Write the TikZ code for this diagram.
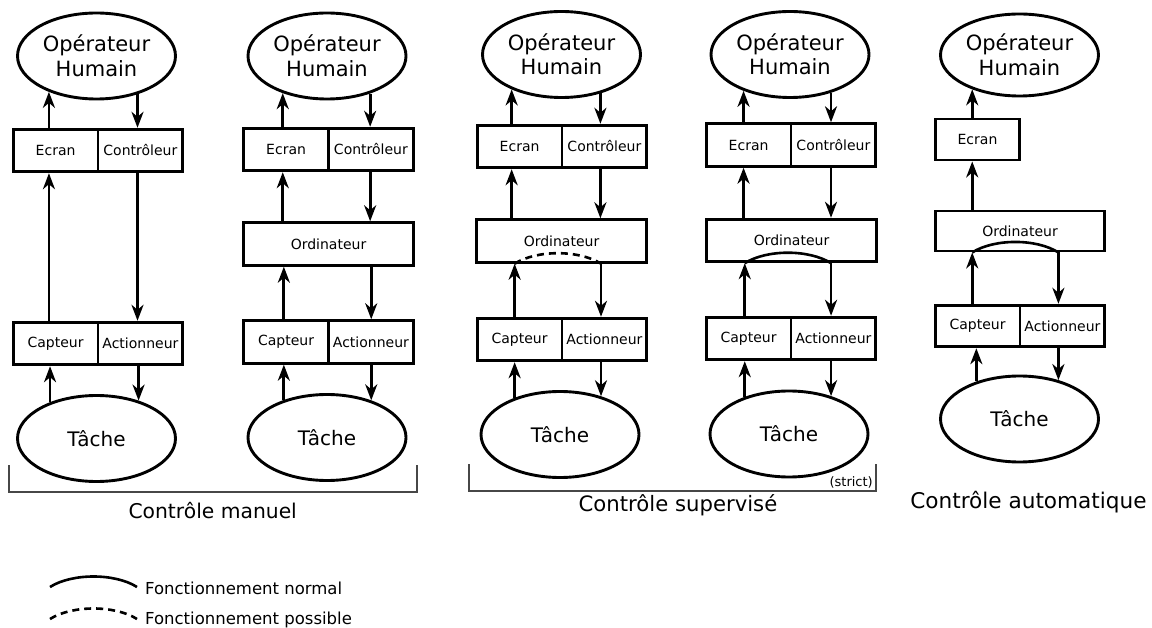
\documentclass[tikz,border=0pt]{standalone}
\usepackage{fontspec}
\setmainfont{DejaVu Sans}
\usetikzlibrary{shapes.geometric,arrows.meta}
\begin{document}
\begin{tikzpicture}[x=1pt,y=-1pt,
  ellbox/.style={ellipse,draw,line width=2.9pt,inner sep=0pt,minimum width=158pt,minimum height=86pt,align=center,font=\fontsize{21}{24.5}\selectfont},
  tachebox/.style={ellbox,font=\fontsize{20}{24}\selectfont},
  cellbox/.style={rectangle,draw,line width=2.9pt,inner sep=0pt,minimum width=84.75pt,minimum height=42.5pt,font=\fontsize{14}{16}\selectfont},
  widebox/.style={cellbox,minimum width=169.5pt},
  arr/.style={line width=2.7pt,-{Stealth[length=16pt,width=12pt,inset=5pt]}},
  loopn/.style={line width=2.6pt},
  loopp/.style={line width=2.6pt,dash pattern=on 7pt off 5pt},
  bracket/.style={line width=1.5pt,draw=black!72},
  caption/.style={anchor=base,inner sep=0pt},
  legtext/.style={anchor=base west,inner sep=0pt,font=\fontsize{16.5}{19}\selectfont}
]
\useasboundingbox (0,0) rectangle (1152,628);

% ---------- column 1 : manual ----------
\node[ellbox] (op1) at (96.5,56) {Opérateur\\Humain};
\node[cellbox] (ecr1) at (55.6,150.5) {Ecran};
\node[cellbox] (ctl1) at (140.4,150.5) {Contrôleur};
\node[cellbox] (cap1) at (55.6,343.5) {Capteur};
\node[cellbox] (act1) at (140.4,343.5) {Actionneur};
\node[tachebox] (ta1) at (96.5,438.5) {Tâche};
\draw[arr] (ecr1.north -| op1.217.6) -- (op1.217.6);
\draw[arr] (op1.317.8) -- (ctl1.north -| op1.317.8);
\draw[arr] (cap1.north -| op1.217.6) -- (ecr1.south -| op1.217.6);
\draw[arr] (ctl1.south -| op1.317.8) -- (act1.north -| op1.317.8);
\draw[arr] (ta1.142.4) -- (cap1.south -| ta1.142.4);
\draw[arr] (act1.south -| ta1.42.2) -- (ta1.42.2);

% ---------- column 2 : manual with computer ----------
\node[ellbox] (op2) at (327,56) {Opérateur\\Humain};
\node[cellbox] (ecr2) at (286.1,149.5) {Ecran};
\node[cellbox] (ctl2) at (370.9,149.5) {Contrôleur};
\node[widebox] (ord2) at (328.5,244) {Ordinateur};
\node[cellbox] (cap2) at (286.1,342) {Capteur};
\node[cellbox] (act2) at (370.9,342) {Actionneur};
\node[tachebox] (ta2) at (327,437.5) {Tâche};
\draw[arr] (ecr2.north -| op2.220.8) -- (op2.220.8);
\draw[arr] (op2.319.2) -- (ctl2.north -| op2.319.2);
\draw[arr] (ord2.north -| op2.220.8) -- (ecr2.south -| op2.220.8);
\draw[arr] (ctl2.south -| op2.319.2) -- (ord2.north -| op2.319.2);
\draw[arr] (cap2.north -| ta2.139.2) -- (ord2.south -| ta2.139.2);
\draw[arr] (ord2.south -| ta2.40.8) -- (act2.north -| ta2.40.8);
\draw[arr] (ta2.139.2) -- (cap2.south -| ta2.139.2);
\draw[arr] (act2.south -| ta2.40.8) -- (ta2.40.8);

% ---------- column 3 : supervised ----------
\node[ellbox] (op3) at (561.5,54.5) {Opérateur\\Humain};
\node[cellbox] (ecr3) at (519.6,146.5) {Ecran};
\node[cellbox] (ctl3) at (604.4,146.5) {Contrôleur};
\node[widebox] (ord3) at (561.5,241) {Ordinateur};
\node[cellbox] (cap3) at (519.6,339.5) {Capteur};
\node[cellbox] (act3) at (604.4,339.5) {Actionneur};
\node[tachebox] (ta3) at (560,434.5) {Tâche};
\draw[arr] (ecr3.north -| op3.215.8) -- (op3.215.8);
\draw[arr] (op3.315.9) -- (ctl3.north -| op3.315.9);
\draw[arr] (ord3.north -| op3.215.8) -- (ecr3.south -| op3.215.8);
\draw[arr] (ctl3.south -| op3.315.9) -- (ord3.north -| op3.315.9);
\draw[arr] (cap3.north -| ta3.141) -- (ord3.south -| ta3.141);
\draw[arr] (ord3.south -| ta3.43.6) -- (act3.north -| ta3.43.6);
\draw[arr] (ta3.141) -- (cap3.south -| ta3.141);
\draw[arr] (act3.south -| ta3.43.6) -- (ta3.43.6);
\draw[loopp] (ord3.south -| ta3.141) .. controls +(22,-14) and +(-22,-14) .. (ord3.south -| ta3.43.6);

% ---------- column 4 : supervised (strict) ----------
\node[ellbox] (op4) at (790,54.5) {Opérateur\\Humain};
\node[cellbox] (ecr4) at (748.6,145) {Ecran};
\node[cellbox] (ctl4) at (833.4,145) {Contrôleur};
\node[widebox] (ord4) at (791.5,240.5) {Ordinateur};
\node[cellbox] (cap4) at (748.6,338.5) {Capteur};
\node[cellbox] (act4) at (833.4,338.5) {Actionneur};
\node[tachebox] (ta4) at (789,434) {Tâche};
\draw[arr] (ecr4.north -| op4.218) -- (op4.218);
\draw[arr] (op4.317.3) -- (ctl4.north -| op4.317.3);
\draw[arr] (ord4.north -| op4.218) -- (ecr4.south -| op4.218);
\draw[arr] (ctl4.south -| op4.317.3) -- (ord4.north -| op4.317.3);
\draw[arr] (cap4.north -| ta4.140.2) -- (ord4.south -| ta4.140.2);
\draw[arr] (ord4.south -| ta4.42.7) -- (act4.north -| ta4.42.7);
\draw[arr] (ta4.140.2) -- (cap4.south -| ta4.140.2);
\draw[arr] (act4.south -| ta4.42.7) -- (ta4.42.7);
\draw[loopn] (ord4.south -| ta4.140.2) .. controls +(22,-14) and +(-22,-14) .. (ord4.south -| ta4.42.7);

% ---------- column 5 : automatic ----------
\node[ellbox,minimum height=82pt] (op5) at (1019.5,55) {Opérateur\\Humain};
\node[cellbox,minimum height=41pt] (ecr5) at (977.5,139.5) {Ecran};
\node[widebox,minimum height=40pt] (ord5) at (1020,231) {Ordinateur};
\node[cellbox,minimum height=41.5pt] (cap5) at (977.6,326) {Capteur};
\node[cellbox,minimum height=41.5pt] (act5) at (1062.4,326) {Actionneur};
\node[tachebox] (ta5) at (1019.5,419) {Tâche};
\draw[arr] (ecr5.north -| op5.216.3) -- (op5.216.3);
\draw[arr] (ord5.north -| op5.216.3) -- (ecr5.south -| op5.216.3);
\draw[arr] (cap5.north -| op5.216.3) -- (ord5.south -| op5.216.3);
\draw[arr] (ord5.south -| ta5.45.1) -- (act5.north -| ta5.45.1);
\draw[arr] (ta5.139.7) -- (cap5.south -| ta5.139.7);
\draw[arr] (act5.south -| ta5.45.1) -- (ta5.45.1);
\draw[loopn] (ord5.south -| op5.216.3) .. controls +(22,-14) and +(-22,-14) .. (ord5.south -| ta5.45.1);

% ---------- brackets and captions ----------
\draw[bracket] (9,465) -- (9,492) -- (417,492) -- (417,465);
\draw[bracket] (469,464) -- (469,491) -- (876,491) -- (876,464);
\node[anchor=base east,inner sep=0pt,font=\fontsize{13}{15}\selectfont] (strict) at (873,486.5) {(strict)};
\node[caption,font=\fontsize{20.3}{24}\selectfont] (capm) at (212.7,518) {Contrôle manuel};
\node[caption,font=\fontsize{21.2}{25}\selectfont] (caps) at (678,511.5) {Contrôle supervisé};
\node[caption,font=\fontsize{21.6}{25}\selectfont] (capa) at (1028.5,508.5) {Contrôle automatique};

% ---------- legend ----------
\coordinate (l1a) at (50,587);
\coordinate (l1b) at (137,587);
\coordinate (l2a) at (50,619);
\coordinate (l2b) at (137,619);
\draw[loopn] (l1a) .. controls +(22,-14) and +(-22,-14) .. (l1b);
\draw[loopp] (l2a) .. controls +(22,-14) and +(-22,-14) .. (l2b);
\node[legtext] (leg1) at (145,594) {Fonctionnement normal};
\node[legtext] (leg2) at (145,624) {Fonctionnement possible};
\end{tikzpicture}
\end{document}
